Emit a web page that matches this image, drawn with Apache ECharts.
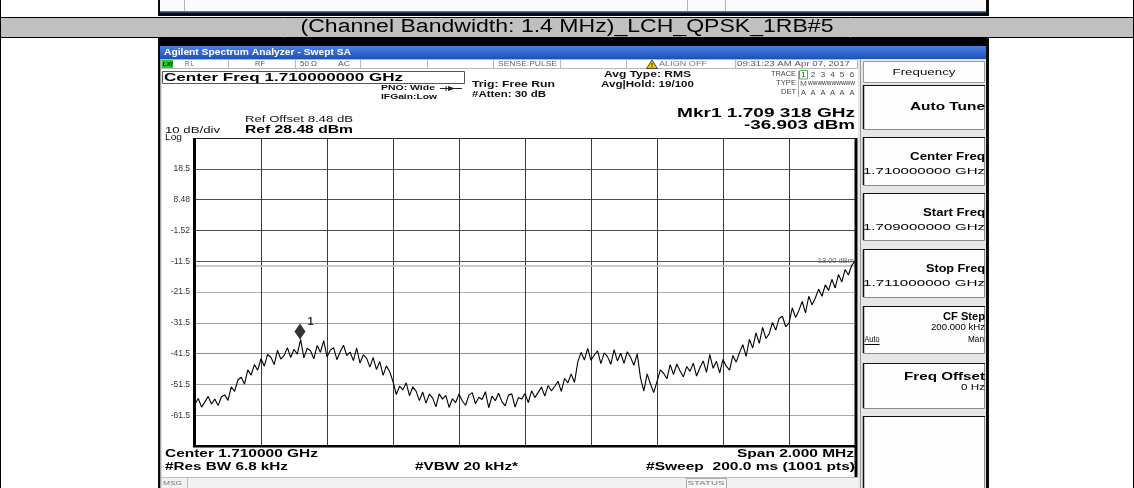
<!DOCTYPE html>
<html><head><meta charset="utf-8">
<script src="https://cdn.jsdelivr.net/npm/echarts@6/dist/echarts.min.js"></script>
<style>html,body{margin:0;padding:0;background:#fff}#c{width:1134px;height:488px}</style>
</head><body><div id="c"></div>
<script>
// ---------- data ----------
const startFreqMHz = 1709.0;
const stopFreqMHz = 1711.0;
const refLevelDbm = 28.48;
const dbPerDiv = 10;
const numDivs = 10;
const traceDbm = [
  -57.8, -56.1, -58.9, -57.2, -55.4, -57.9, -56.3, -58.4, -55.6, -54.9,
  -56.7, -52.3, -53.8, -50.1, -49.2, -51.4, -46.8, -48.5, -45.1, -46.9,
  -43.2, -45.6, -41.8, -42.7, -45.1, -40.4, -43.3, -42.1, -39.6, -42.8,
  -40.1, -41.7, -36.9, -42.9, -39.8, -40.6, -43.2, -38.9, -41.1, -37.3,
  -42.6, -40.4, -39.6, -43.5, -40.9, -38.8, -42.2, -41.0, -43.8, -39.7,
  -44.6, -41.9, -43.0, -45.9, -42.8, -46.7, -44.1, -48.6, -45.5, -47.4,
  -50.6, -54.8, -52.1, -53.3, -51.0, -55.2, -52.3, -53.7, -56.8, -54.0,
  -57.6, -54.7, -55.9, -58.8, -54.6, -56.3, -55.1, -59.0, -56.2, -57.4,
  -54.6, -56.9, -58.3, -55.0, -54.2, -57.8, -55.7, -56.4, -53.9, -59.1,
  -55.3, -56.8, -54.4, -57.1, -58.5, -55.0, -54.6, -58.9, -55.8, -56.3,
  -54.5, -57.4, -53.6, -55.8, -54.1, -52.4, -55.3, -51.9, -53.6, -52.2,
  -50.5, -53.8, -49.6, -51.0, -48.1, -50.9, -44.2, -41.1, -43.6, -39.8,
  -43.7, -42.0, -40.6, -44.8, -41.3, -42.5, -45.0, -40.2, -43.9, -41.4,
  -44.7, -40.9, -42.8, -45.3, -41.6, -49.4, -53.7, -48.1, -51.3, -54.2,
  -50.6, -46.8, -47.9, -49.7, -45.1, -48.3, -44.9, -47.2, -49.1, -45.7,
  -47.3, -44.6, -48.8, -46.1, -43.9, -47.6, -41.8, -46.3, -44.0, -47.8,
  -43.4, -45.6, -46.9, -42.1, -44.3, -41.2, -38.6, -42.4, -36.9, -39.7,
  -34.8, -38.2, -33.0, -36.6, -35.1, -31.4, -33.9, -30.1, -29.4, -32.8,
  -31.6, -26.7, -29.8, -27.5, -24.6, -28.3, -22.9, -25.7, -23.4, -20.6,
  -22.9, -19.2, -21.0, -17.4, -20.2, -15.8, -18.3, -14.2, -16.0, -12.9,
  -11.6
];
const yTickLabels = ['-61.5', '-51.5', '-41.5', '-31.5', '-21.5', '-11.5', '-1.52', '8.48', '18.5'];
const markerFreqMHz = 1709.318;
const markerDbm = -36.903;
const markerName = '1';
const displayLineDbm = -13.0;
const titleText = '(Channel Bandwidth: 1.4 MHz)_LCH_QPSK_1RB#5';

// sweep points
const nPts = traceDbm.length;
const traceData = traceDbm.map((v, i) => [startFreqMHz + i * (stopFreqMHz - startFreqMHz) / (nPts - 1), v]);

// ---------- helpers ----------
const FF = '"Liberation Sans", Arial, sans-serif';
const mctx = document.createElement('canvas').getContext('2d');
function fontStr(size, bold, italic) { return (italic ? 'italic ' : '') + (bold ? 'bold ' : '') + size + 'px ' + FF; }
function T(s, x, y, size, o) {
  o = o || {};
  const font = fontStr(size, o.bold, o.italic);
  mctx.font = font;
  const nat = mctx.measureText(s).width || 1;
  const sx = o.w ? o.w / nat : 1;
  const al = o.align || 'left';
  return { type: 'text', x: x, y: y, scaleX: sx, z: 50, silent: true,
    style: { text: s, x: 0, y: 0, font: font, fill: o.color || '#000',
      textAlign: al, textVerticalAlign: 'middle', align: al, verticalAlign: 'middle' } };
}
function R(x, y, w, h, fill, stroke, lw, z) {
  return { type: 'rect', z: z == null ? 5 : z, silent: true, shape: { x: x, y: y, width: w, height: h },
    style: { fill: fill || 'none', stroke: stroke || null, lineWidth: lw || 0 } };
}
function L(x1, y1, x2, y2, stroke, lw, z) {
  return { type: 'line', z: z == null ? 6 : z, silent: true, shape: { x1: x1, y1: y1, x2: x2, y2: y2 },
    style: { stroke: stroke, lineWidth: lw || 1 } };
}

const g = [];
// outer table
g.push(L(0.5, 0, 0.5, 488, '#000', 1));
g.push(L(1133.5, 0, 1133.5, 488, '#000', 1));
g.push(R(1, 17, 1132, 20, '#c0c0c0', null, 0, 1));
g.push(L(0, 17.5, 1134, 17.5, '#000', 1));
g.push(L(0, 37.5, 1134, 37.5, '#000', 1));
g.push(T(titleText, 567, 27.5, 18, { align: 'center', w: 533, color: '#000' }));

// remnant of previous screenshot (top row)
g.push(R(158, 0, 831, 16, '#0b0b0b', null, 0, 2));
g.push(R(160, 0, 826, 11, '#fbfbfb', null, 0, 3));
g.push(R(160, 11, 826, 1.5, '#3d72d6', null, 0, 3));
g.push(L(184.5, 0, 184.5, 11, '#b5b5b5', 1));
g.push(L(687.5, 0, 687.5, 11, '#b5b5b5', 1));
g.push(L(725.5, 0, 725.5, 11, '#b5b5b5', 1));

// screenshot frame
g.push(R(158, 38, 831, 8, '#000', null, 0, 2));
g.push(R(158, 38, 2.5, 450, '#0b0b0b', null, 0, 2));
g.push(R(986, 38, 3, 450, '#0b0b0b', null, 0, 2));
g.push(L(161, 59, 161, 488, '#bdbdbd', 1));
// title bar
g.push({ type: 'rect', z: 3, silent: true, shape: { x: 160, y: 46, width: 826, height: 13 },
  style: { fill: { type: 'linear', x: 0, y: 0, x2: 0, y2: 1, colorStops: [{ offset: 0, color: '#4b80e2' }, { offset: 1, color: '#1c50bd' }] } } });
g.push(T('Agilent Spectrum Analyzer - Swept SA', 164, 52.5, 8.5, { bold: true, w: 187, color: '#fff' }));

// status row
g.push(R(161.5, 59.5, 696, 9, '#fff', '#b8b8b8', 1, 3));
[228, 295, 360, 427, 493, 560, 626, 735].forEach(x => g.push(L(x + 0.5, 60, x + 0.5, 68, '#b8b8b8', 1)));
g.push(R(162, 60, 11, 8, '#22d022', null, 0, 4));
g.push(T('LXI', 162.5, 64.3, 6, { bold: true, italic: true, w: 10, color: '#000' }));
g.push(T('R L', 185, 64.3, 7.5, { w: 9, color: '#555' }));
g.push(T('RF', 255, 64.3, 7.5, { w: 10, color: '#555' }));
g.push(T('50 Ω', 300, 64.3, 7.5, { w: 17, color: '#555' }));
g.push(T('AC', 338, 64.3, 7.5, { w: 12, color: '#555' }));
g.push(T('SENSE:PULSE', 498, 64.3, 7.5, { w: 59, color: '#666' }));
g.push({ type: 'polygon', z: 10, silent: true, shape: { points: [[652, 60], [657.5, 68.5], [646.5, 68.5]] }, style: { fill: '#f3c200', stroke: '#222', lineWidth: 0.8 } });
g.push(T('!', 652, 65.5, 6, { bold: true, align: 'center', color: '#000' }));
g.push(T('ALIGN OFF', 659, 64.3, 7.5, { w: 48, color: '#777' }));
g.push(T('09:31:23 AM Apr 07, 2017', 737, 64.3, 7.5, { w: 113, color: '#555' }));

// Center freq box
g.push(R(162.5, 71.5, 302, 12, '#fff', '#555', 1, 3));
g.push(T('Center Freq 1.710000000 GHz', 164, 77.8, 11.5, { bold: true, w: 239 }));

// settings texts
g.push(T('PNO: Wide', 381, 88, 8, { bold: true, w: 54, color: '#111' }));
g.push(L(440, 88.5, 462, 88.5, '#222', 1));
g.push({ type: 'polygon', z: 10, silent: true, shape: { points: [[448, 86], [455, 88.5], [448, 91]] }, style: { fill: '#222' } });
g.push(L(446, 86, 446, 91, '#222', 1));
g.push(T('IFGain:Low', 381, 97, 8, { bold: true, w: 56, color: '#111' }));
g.push(T('Trig: Free Run', 472, 84.5, 9, { bold: true, w: 83, color: '#111' }));
g.push(T('#Atten: 30 dB', 472, 95, 9, { bold: true, w: 74, color: '#111' }));
g.push(T('Avg Type: RMS', 604, 74.5, 9, { bold: true, w: 87, color: '#111' }));
g.push(T('Avg|Hold: 19/100', 601, 84.5, 9, { bold: true, w: 93, color: '#111' }));

// trace block
g.push(L(798.5, 71, 798.5, 97, '#aaa', 1));
g.push(T('TRACE', 796, 74.5, 6.5, { w: 25, align: 'right', color: '#444' }));
g.push(T('TYPE', 796, 83.5, 6.5, { w: 20, align: 'right', color: '#444' }));
g.push(T('DET', 796, 92.5, 6.5, { w: 15, align: 'right', color: '#444' }));
g.push(R(799.5, 70.5, 8, 8.5, 'none', '#3cbc3c', 1, 8));
const traceNums = ['1', '2', '3', '4', '5', '6'];
const traceX = [803.5, 813, 823, 832.5, 842, 852];
traceNums.forEach((s, i) => g.push(T(s, traceX[i], 74.8, 8, { align: 'center', color: '#444' })));
g.push(T('M', 803.5, 83.5, 7.5, { align: 'center', color: '#666', w: 7 }));
g.push(T('WWWWWWWWWW', 808, 83.5, 6, { w: 47, color: '#222' }));
traceX.forEach(x => g.push(T('A', x, 92.5, 7.5, { align: 'center', color: '#444' })));

// marker readout
g.push(T('Mkr1 1.709 318 GHz', 855, 113, 13, { bold: true, align: 'right', w: 178 }));
g.push(T('-36.903 dBm', 855, 125.5, 13, { bold: true, align: 'right', w: 111 }));

// ref texts
g.push(T('Ref Offset 8.48 dB', 245, 119.5, 9.5, { w: 108, color: '#111' }));
g.push(T('Ref 28.48 dBm', 245, 129.5, 11.5, { bold: true, w: 108 }));
g.push(T('10 dB/div', 165, 130.5, 9.5, { w: 55, color: '#111' }));
g.push(T('Log', 165, 137.5, 9.5, { w: 17, color: '#111' }));

// plot borders
g.push(L(195, 138.5, 857, 138.5, '#222', 1, 20));
g.push(R(193, 138, 3, 309, '#000', null, 0, 20));
g.push(R(193, 445, 664, 2.5, '#000', null, 0, 20));
g.push(R(854.5, 138, 3, 339, '#000', null, 0, 20));

// bottom annotations
g.push(T('Center 1.710000 GHz', 165, 454.5, 10.5, { bold: true, w: 153 }));
g.push(T('#Res BW 6.8 kHz', 165, 467, 10.5, { bold: true, w: 123 }));
g.push(T('#VBW 20 kHz*', 415, 467, 10.5, { bold: true, w: 103 }));
g.push(T('Span 2.000 MHz', 854, 454.5, 10.5, { bold: true, align: 'right', w: 117 }));
g.push(T('#Sweep  200.0 ms (1001 pts)', 855, 467, 10.5, { bold: true, align: 'right', w: 209 }));

// message bar
g.push(R(161, 477, 697, 11, '#f2f2f2', null, 0, 3));
g.push(L(161, 477.5, 858, 477.5, '#bbb', 1));
g.push(L(187.5, 478, 187.5, 488, '#bbb', 1));
g.push(T('MSG', 163, 483.5, 5.5, { w: 19, color: '#777' }));
g.push(R(686.5, 478.5, 40, 10, '#f7f7f7', '#aaa', 1, 4));
g.push(T('STATUS', 706, 483.5, 5.5, { w: 37, align: 'center', color: '#777' }));

// right panel
g.push(R(858, 59, 128, 429, '#e6e6e6', null, 0, 2));
g.push(L(860.5, 59, 860.5, 488, '#9a9a9a', 1));
g.push(R(863.5, 61.5, 121, 21, '#fdfdfd', '#9a9a9a', 1, 3));
g.push(T('Frequency', 924, 72, 9.5, { align: 'center', w: 63, color: '#111' }));
const btnY = [[85, 129], [137, 185], [193, 240], [249, 297], [306, 353], [363, 408], [416, 488]];
btnY.forEach(b => {
  g.push(R(863.5, b[0] + 0.5, 121, b[1] - b[0], '#fdfdfd', '#8a8a8a', 1, 3));
  g.push(L(863.5, b[0], 863.5, b[1], '#111', 1.5, 4));
  g.push(L(863, b[0] + 0.5, 985, b[0] + 0.5, '#111', 1, 4));
});
g.push(T('Auto Tune', 985, 107, 10.5, { bold: true, align: 'right', w: 75 }));
g.push(T('Center Freq', 985, 157, 10.5, { bold: true, align: 'right', w: 75 }));
g.push(T('1.710000000 GHz', 985, 172, 8.5, { align: 'right', w: 122 }));
g.push(T('Start Freq', 985, 213, 10.5, { bold: true, align: 'right', w: 62 }));
g.push(T('1.709000000 GHz', 985, 228, 8.5, { align: 'right', w: 122 }));
g.push(T('Stop Freq', 985, 269, 10.5, { bold: true, align: 'right', w: 59 }));
g.push(T('1.711000000 GHz', 985, 284, 8.5, { align: 'right', w: 122 }));
g.push(T('CF Step', 985, 317, 10.5, { bold: true, align: 'right', w: 42 }));
g.push(T('200.000 kHz', 985, 328, 8.5, { align: 'right', w: 54 }));
g.push(T('Auto', 864.5, 340, 8.5, { w: 15 }));
g.push(L(864.5, 344.5, 879.5, 344.5, '#000', 1, 50));
g.push(T('Man', 984, 340, 8.5, { align: 'right', w: 16 }));
g.push(T('Freq Offset', 985, 377, 10.5, { bold: true, align: 'right', w: 81 }));
g.push(T('0 Hz', 985, 388, 8.5, { align: 'right', w: 24 }));

// ---------- chart ----------
const hLineColors = ['#777', '#a8a8a8', '#a8a8a8', '#8c8c8c', '#9c9c9c', '#b4b4b4', '#555', '#4a4a4a', '#4a4a4a', '#555', '#333'];
const chart = echarts.init(document.getElementById('c'), null, { renderer: 'canvas' });
chart.setOption({
  backgroundColor: '#fff',
  animation: false,
  grid: { left: 195, top: 138, width: 660, height: 308, containLabel: false },
  xAxis: [
    { type: 'value', min: startFreqMHz, max: stopFreqMHz, show: false },
    { type: 'value', min: 0, max: numDivs, interval: 1, axisLine: { show: false }, axisTick: { show: false },
      axisLabel: { show: false }, splitLine: { show: true, lineStyle: { color: '#3c3c3c', width: 1 } } }
  ],
  yAxis: [
    { type: 'value', min: refLevelDbm - dbPerDiv * numDivs, max: refLevelDbm, show: false },
    { type: 'value', min: 0, max: numDivs, interval: 1, position: 'left', axisLine: { show: false }, axisTick: { show: false },
      axisLabel: { margin: 5, fontSize: 8.5, fontFamily: 'Liberation Sans', color: '#333',
        formatter: v => (v >= 1 && v <= yTickLabels.length) ? yTickLabels[v - 1] : '' },
      splitLine: { show: true, lineStyle: { color: hLineColors, width: 1 } } }
  ],
  series: [
    { type: 'line', xAxisIndex: 0, yAxisIndex: 0, data: traceData, showSymbol: false, symbol: 'none',
      lineStyle: { color: '#000', width: 1.1 }, clip: true, z: 5,
      markLine: { silent: true, symbol: 'none', animation: false,
        lineStyle: { color: '#b9b9b9', width: 1.5, type: 'solid' },
        label: { show: true, position: 'insideEndTop', distance: 1, fontSize: 7.5, fontFamily: 'Liberation Sans', color: '#666',
          formatter: () => displayLineDbm.toFixed(2) + ' dBm' },
        data: [{ yAxis: displayLineDbm }] } },
    { type: 'scatter', xAxisIndex: 0, yAxisIndex: 0, data: [[markerFreqMHz, markerDbm]], symbol: 'diamond',
      symbolSize: [11, 16], symbolOffset: [0, -8], itemStyle: { color: '#000' }, z: 8,
      label: { show: true, formatter: markerName, position: 'right', distance: 2, offset: [0, -9],
        fontSize: 11, fontWeight: 'bold', fontFamily: 'Liberation Sans', color: '#000' } }
  ],
  graphic: { elements: g }
});
</script></body></html>
